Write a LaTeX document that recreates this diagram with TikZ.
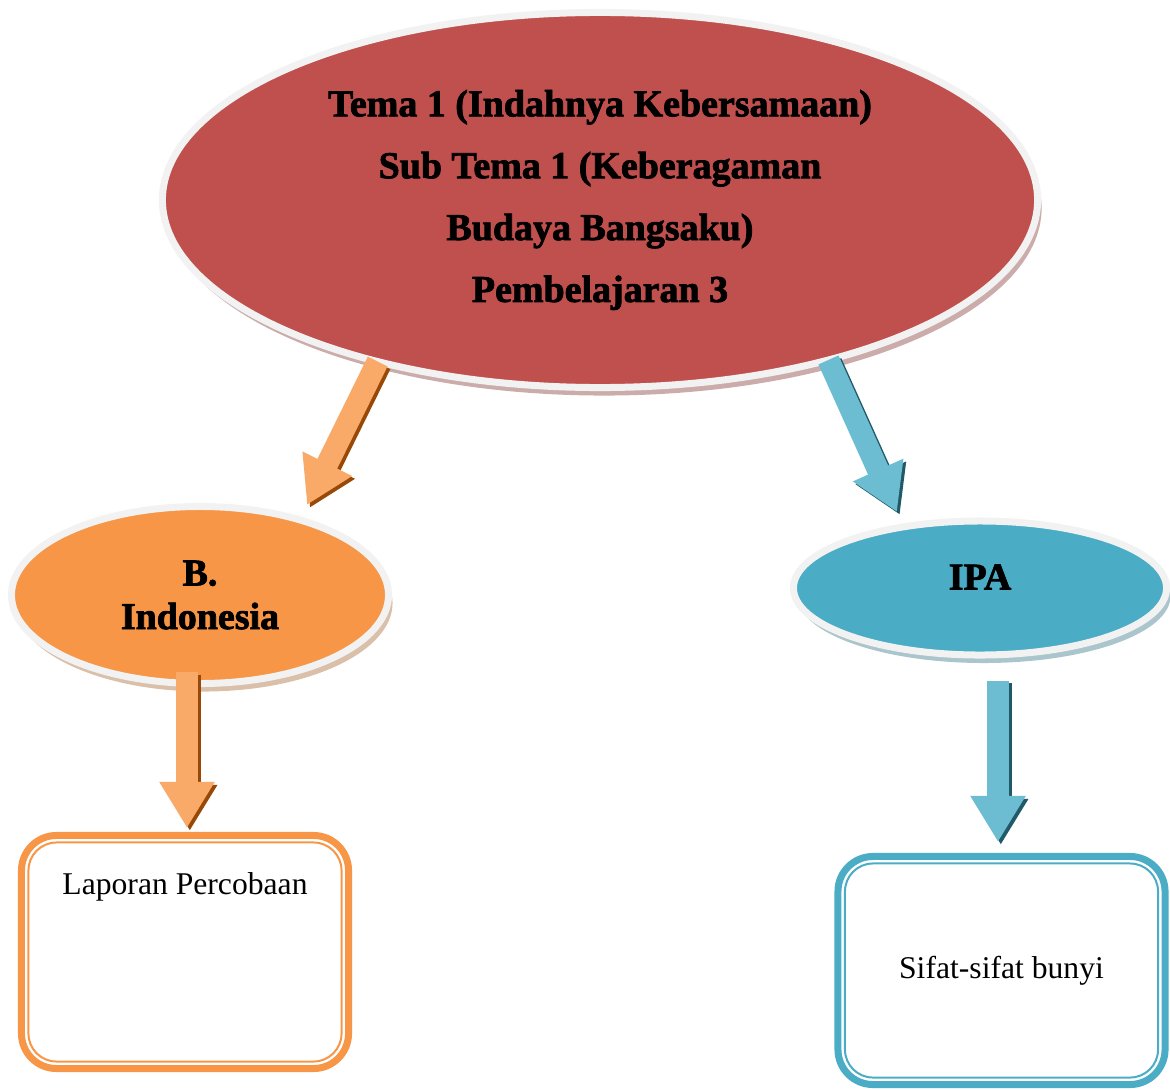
\documentclass[tikz,border=0pt]{standalone}
\usepackage{fontspec}
\setmainfont{Liberation Serif}
\newfontfamily\headfont[BoldFeatures={FakeBold=2}]{Liberation Serif}
\usepackage{xcolor}
\usepackage{tikz}
\usetikzlibrary{shapes.geometric,arrows.meta,positioning,calc,shadows}

\definecolor{temaRed}{HTML}{C0504D}
\definecolor{bOrange}{HTML}{F79646}
\definecolor{ipaBlue}{HTML}{4BACC6}
\definecolor{rimGray}{HTML}{F2F2F2}
\definecolor{oDark}{HTML}{984807}
\definecolor{bDark}{HTML}{215968}
\definecolor{oLight}{HTML}{F9AA68}
\definecolor{bLight}{HTML}{6DBDD2}

\begin{document}
\begin{tikzpicture}[
    x=0.025cm, y=-0.025cm,
    bubble/.style={ellipse, draw=rimGray, fill=#1, line width=0.175cm, outer sep=0pt, inner sep=2pt, align=center,
        font=\fontsize{27}{44}\selectfont\headfont\bfseries,
        drop shadow={shadow xshift=0.1cm, shadow yshift=-0.2cm, fill=#1!50!gray, opacity=0.55}},
    card/.style={rectangle, rounded corners=0.875cm, draw=#1, line width=0.175cm, outer sep=0pt, minimum width=8.175cm},
    cardline/.style={draw=#1, line width=0.05cm, rounded corners=0.7cm},
    blockarrow/.style={line width=0.55cm, -{Triangle[width=1.3cm, length=1.15cm]}, draw=#1},
    cardtext/.style={font=\fontsize{22.5}{27}\selectfont}
]
    \useasboundingbox (0,0) rectangle (1170,1090);

    % Main theme ellipse
    \node[bubble=temaRed, minimum width=21.875cm, minimum height=9.375cm] (tema) at (600,200)
        {Tema 1 (Indahnya Kebersamaan)\\ Sub Tema 1 (Keberagaman\\ Budaya Bangsaku)\\ Pembelajaran 3};

    % Subject ellipses
    \node[bubble=bOrange, font=\fontsize{27}{31}\selectfont\headfont\bfseries, minimum width=9.425cm, minimum height=4.425cm] (bind) at (200,595) {B.\\Indonesia};
    \node[bubble=ipaBlue, minimum width=9.325cm, minimum height=3.35cm] (ipa) at (980,588) {};
    \node[font=\fontsize{27}{31}\selectfont\headfont\bfseries] (ipaTxt) at ($(ipa.center)+(0,-11)$) {IPA};

    % Material boxes
    \node[card=bOrange, minimum height=5.825cm] (lap) at (185,952) {};
    \draw[cardline=bOrange] ($(lap.north west)+(7,7)$) rectangle ($(lap.south east)+(-7,-7)$);
    \node[cardtext, anchor=base] (lapTxt) at ($(lap.north)+(0,59.5)$) {Laporan Percobaan};

    \node[card=ipaBlue, minimum height=5.7cm] (sifat) at (1001.5,970.5) {};
    \draw[cardline=ipaBlue] ($(sifat.north west)+(7,7)$) rectangle ($(sifat.south east)+(-7,-7)$);
    \node[cardtext] (sifatTxt) at (sifat.center) {Sifat-sifat bunyi};

    % Arrow ends
    \coordinate (tipL) at (307,505);
    \coordinate (tipR) at (897,512);
    \coordinate (bindOut) at ($(bind.south)+(-13,-11.5)$);
    \coordinate (lapIn) at ($(lap.north)+(2,-7.5)$);
    \coordinate (ipaOut) at ($(ipa.south)+(18,25.5)$);
    \coordinate (sifatIn) at ($(sifat.north)+(-3.5,-14.5)$);

    % Block arrows (dark copy behind as shadow)
    \draw[blockarrow=oDark, transform canvas={xshift=2pt, yshift=-2pt}] (tema.216) -- (tipL);
    \draw[blockarrow=oLight] (tema.216) -- (tipL);
    \draw[blockarrow=bDark, transform canvas={xshift=2pt, yshift=-2pt}] (tema.325) -- (tipR);
    \draw[blockarrow=bLight] (tema.325) -- (tipR);
    \draw[blockarrow=oDark, transform canvas={xshift=2pt, yshift=-2pt}] (bindOut) -- (lapIn);
    \draw[blockarrow=oLight] (bindOut) -- (lapIn);
    \draw[blockarrow=bDark, transform canvas={xshift=2pt, yshift=-2pt}] (ipaOut) -- (sifatIn);
    \draw[blockarrow=bLight] (ipaOut) -- (sifatIn);
\end{tikzpicture}
\end{document}
